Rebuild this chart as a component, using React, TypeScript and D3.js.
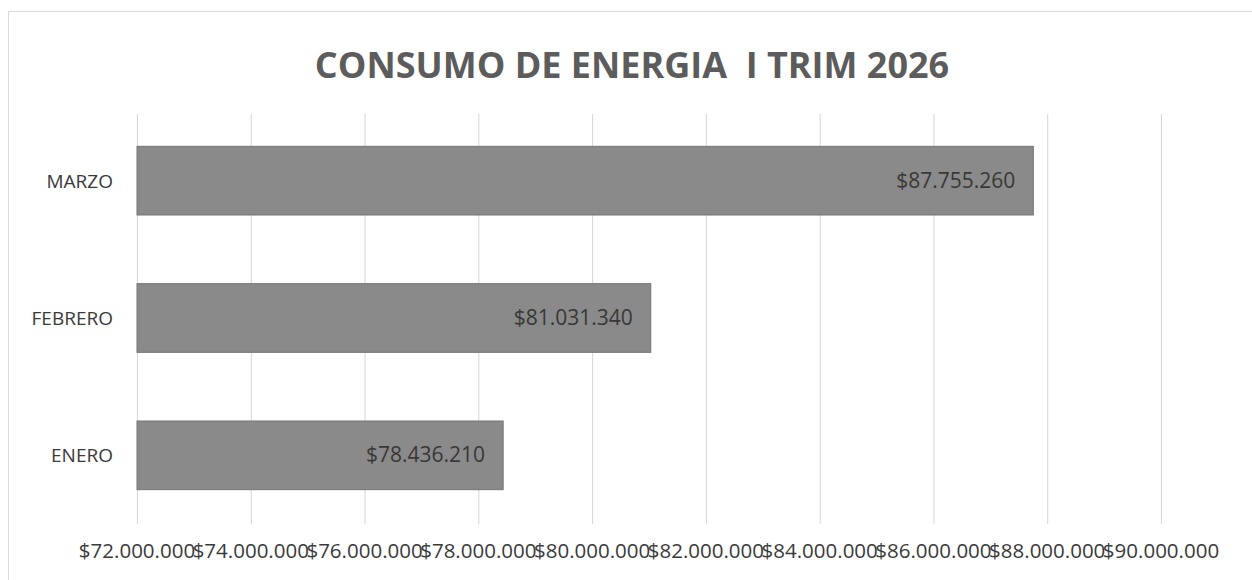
import * as d3 from "d3";
import React, { useEffect, useRef } from "react";

const meses = ["ENERO", "FEBRERO", "MARZO"];
const consumo = [78436210, 81031340, 87755260];
const ticks = [72000000, 74000000, 76000000, 78000000, 80000000, 82000000, 84000000, 86000000, 88000000, 90000000];
const titulo = "CONSUMO DE ENERGIA  I TRIM 2026";

function App() {
  const ref = useRef<SVGSVGElement>(null);

  useEffect(() => {
    const svg = d3.select(ref.current);
    svg.selectAll("*").remove();

    const width = 1252;
    const height = 580;
    const margin = { top: 112, left: 137, bottom: 56, right: 91 };

    const locale = d3.formatLocale({ decimal: ",", thousands: ".", grouping: [3], currency: ["$", ""] });
    const fmt = locale.format("$,.0f");

    svg.append("rect")
      .attr("x", 8.5).attr("y", 11.5)
      .attr("width", width + 20).attr("height", height)
      .attr("fill", "#fff")
      .attr("stroke", "#b5b5b5")
      .attr("stroke-dasharray", "1,1");

    svg.append("text")
      .attr("x", 632).attr("y", 78)
      .attr("text-anchor", "middle")
      .attr("font-family", "'Open Sans', sans-serif")
      .attr("font-weight", "bold")
      .attr("font-size", 36)
      .attr("fill", "#5c5c5c")
      .style("white-space", "pre")
      .text(titulo);

    const x = d3.scaleLinear()
      .domain([72000000, 90000000])
      .range([margin.left, width - margin.right]);

    const y = d3.scaleBand()
      .domain(meses.slice().reverse())
      .range([margin.top, height - margin.bottom])
      .paddingInner(0.5)
      .paddingOuter(0.25);

    const grid = svg.append("g");
    grid.selectAll("line").data(ticks).enter().append("line")
      .attr("x1", d => x(d) + 0.5).attr("x2", d => x(d) + 0.5)
      .attr("y1", margin.top + 2).attr("y2", height - margin.bottom)
      .attr("stroke", "#d6d6d6");

    svg.append("g").selectAll("text").data(ticks).enter().append("text")
      .attr("x", d => x(d))
      .attr("y", 558)
      .attr("text-anchor", "middle")
      .attr("font-family", "'Open Sans', sans-serif")
      .attr("font-size", 20.5)
      .attr("fill", "#3a3a3a")
      .text(d => fmt(d));

    const data = meses.map((m, i) => ({ mes: m, valor: consumo[i] }));

    svg.append("g").selectAll("rect").data(data).enter().append("rect")
      .attr("x", x(72000000))
      .attr("y", d => y(d.mes)!)
      .attr("width", d => x(d.valor) - x(72000000))
      .attr("height", y.bandwidth())
      .attr("fill", "#8a8a8a")
      .attr("stroke", "#747474")
      .attr("stroke-width", 1);

    svg.append("g").selectAll("text").data(data).enter().append("text")
      .attr("x", d => x(d.valor) - 18)
      .attr("y", d => y(d.mes)! + y.bandwidth() / 2 + 7)
      .attr("text-anchor", "end")
      .attr("font-family", "'Open Sans', sans-serif")
      .attr("font-size", 21)
      .attr("fill", "#383838")
      .text(d => fmt(d.valor));

    svg.append("g").selectAll("text").data(data).enter().append("text")
      .attr("x", margin.left - 24)
      .attr("y", d => y(d.mes)! + y.bandwidth() / 2 + 7)
      .attr("text-anchor", "end")
      .attr("font-family", "'Open Sans', sans-serif")
      .attr("font-size", 19)
      .attr("fill", "#3a3a3a")
      .text(d => d.mes);
  }, []);

  return (
    <svg ref={ref} width={1252} height={580}
      style={{ position: "absolute", left: 0, top: 0, background: "#fff" }} />
  );
}

export default App;
